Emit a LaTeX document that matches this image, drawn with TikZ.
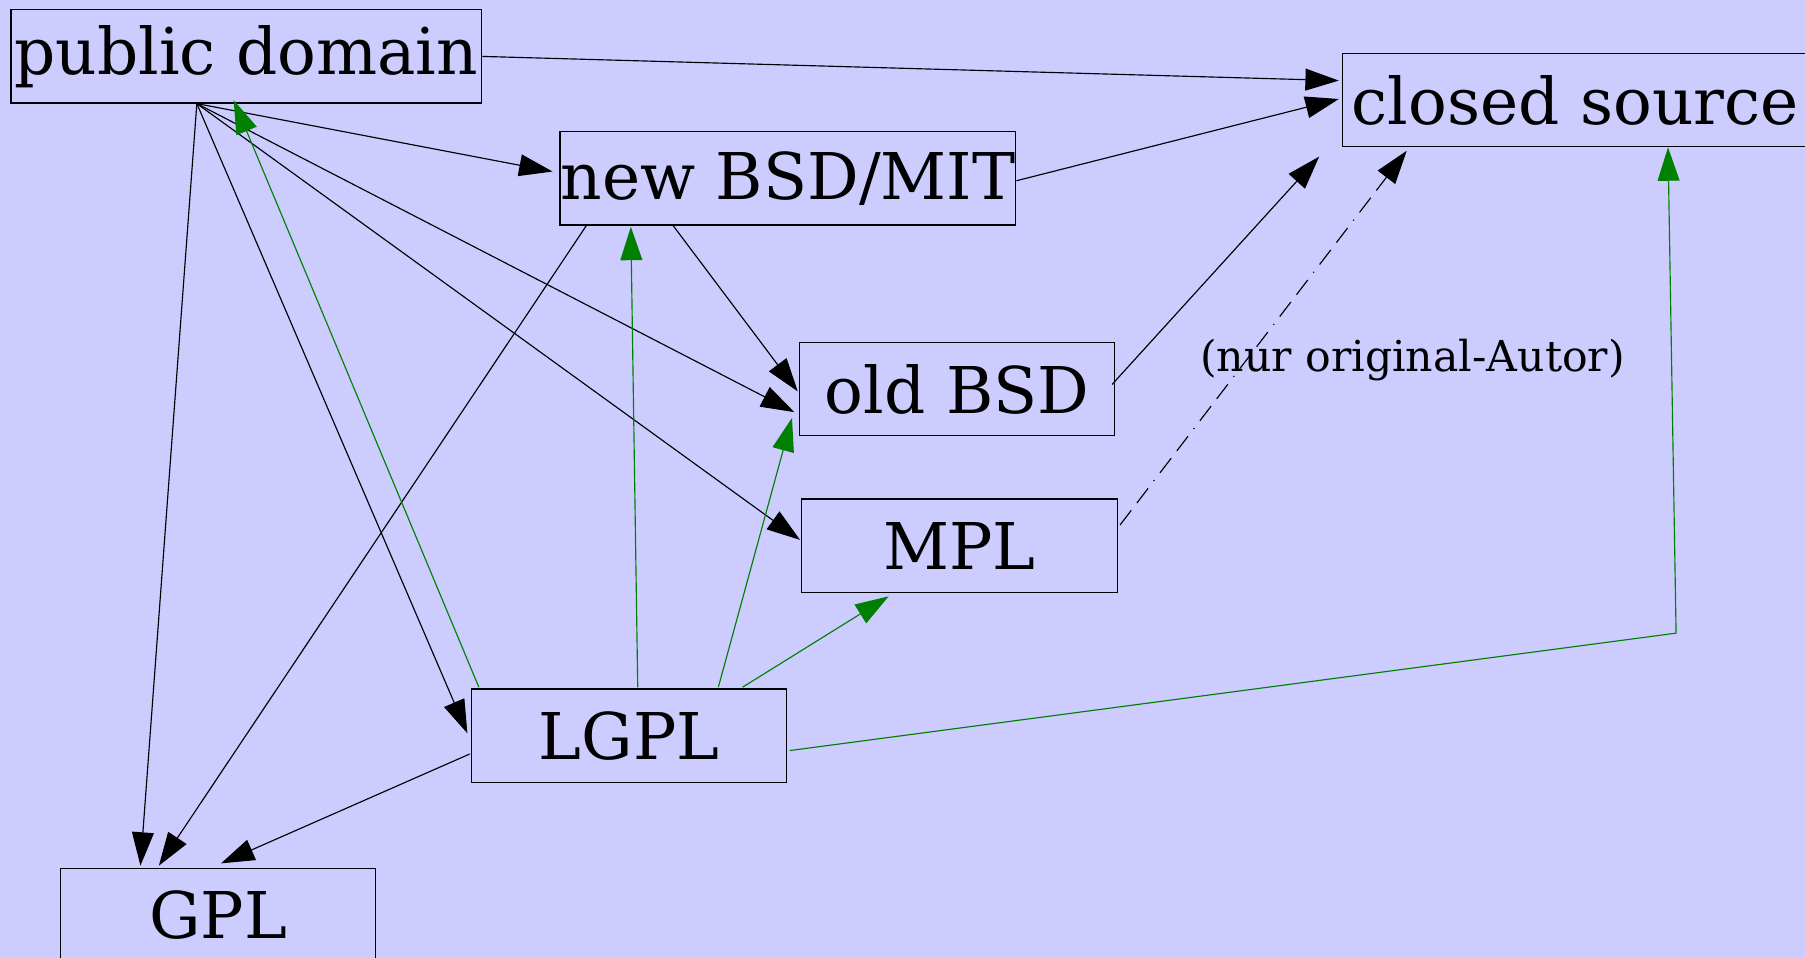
\documentclass[tikz,border=0pt]{standalone}
\usepackage{fontspec}
\setmainfont{DejaVu Serif}
\usetikzlibrary{arrows.meta,calc}
\definecolor{bgblue}{RGB}{204,204,255}
\definecolor{licgreen}{RGB}{0,128,0}
\tikzset{every picture/.style={line width=0.5pt}}
\tikzset{
  licbox/.style={draw=black, line width=0.5pt, minimum height=40.5pt, inner sep=0pt, font=\fontsize{28}{30}\selectfont},
  blackarrow/.style={draw=black, -{Triangle[length=14.5pt,width=9.5pt]}},
  greenarrow/.style={draw=licgreen, -{Triangle[length=14.5pt,width=9.5pt]}},
}

\begin{document}
\begin{tikzpicture}[x=0.5pt,y=0.5pt,yscale=-1,xscale=1]
        %background
        \fill [bgblue] (0,0) rectangle (1568,832);
        \useasboundingbox (0,0) rectangle (1568,832);

        % Text Node
        \node [licbox, anchor=north west, minimum width=204.5pt] (pd) at (9,8) {public domain};
        % Text Node
        \node [licbox, anchor=north west, minimum width=202pt] (cs) at (1166,46) {closed source};
        % Text Node
        \node [licbox, anchor=north west, minimum width=198pt] (nbsd) at (486,114) {new BSD/MIT};
        % Text Node
        \node [licbox, anchor=north west, minimum width=137pt] (obsd) at (694,297) {old BSD};
        % Text Node
        \node [licbox, anchor=north west, minimum width=137pt] (mpl) at (696,433) {MPL};
        % Text Node
        \node [licbox, anchor=north west, minimum width=137pt] (lgpl) at (409,598) {LGPL};
        % Text Node
        \node [licbox, anchor=north west, minimum width=137pt] (gpl) at (52,754) {GPL};
        % Text Node
        \node [font=\fontsize{18.5}{20}\selectfont] (note) at (1227,313) {(nur original-Autor)};

        %Straight Lines
        \draw [blackarrow] (pd.east) -- ($(cs.west)+(-3,-17)$);
        \draw [blackarrow] ($(nbsd.east)+(0,2)$) -- ($(cs.west)+(-3,-1)$);
        \draw [blackarrow] ($(obsd.east)+(-3,-4)$) -- ($(cs.south west)+(-20,8)$);
        \draw [blackarrow, dash pattern=on 8pt off 4pt on 8pt off 4pt on 0.5pt off 4pt] ($(mpl.east)+(2,-18)$) -- ($(cs.south west)+(56,3)$);

        %Straight Lines
        \draw [blackarrow] ($(pd.south west)+(162,0)$) -- ($(nbsd.west)+(-6,-6)$);
        \draw [blackarrow] ($(pd.south west)+(162,0)$) -- ($(obsd.west)+(-4,20)$);
        \draw [blackarrow] ($(pd.south west)+(162,0)$) -- ($(mpl.west)+(-1,-5)$);
        \draw [blackarrow] ($(pd.south west)+(162,0)$) -- ($(lgpl.west)+(-3,-2)$);
        \draw [blackarrow] ($(pd.south west)+(162,0)$) -- ($(gpl.north west)+(70,-2)$);

        %Straight Lines
        \draw [blackarrow] ($(nbsd.south west)+(24,-1)$) -- ($(gpl.north west)+(86,-2)$);
        \draw [blackarrow] ($(nbsd.south west)+(98,-1)$) -- ($(obsd.west)+(-1,2)$);
        \draw [blackarrow] ($(lgpl.west)+(-1,16)$) -- ($(gpl.north west)+(140,-4)$);

        %Straight Lines
        \draw [greenarrow] ($(lgpl.north west)+(7,-1)$) -- ($(pd.south west)+(194,-3)$);
        \draw [greenarrow] ($(lgpl.north west)+(145,-1)$) -- ($(nbsd.south west)+(62,1)$);
        \draw [greenarrow] ($(lgpl.north west)+(215,-1)$) -- ($(obsd.west)+(-6,25)$);
        \draw [greenarrow] ($(lgpl.north west)+(236,-1)$) -- ($(mpl.south west)+(76,3)$);
        \coordinate (bend) at (1456,550);
        \draw [greenarrow] ($(lgpl.east)+(2,13)$) -- (bend) -- ($(cs.south west)+(283,0)$);

\end{tikzpicture}
\end{document}
